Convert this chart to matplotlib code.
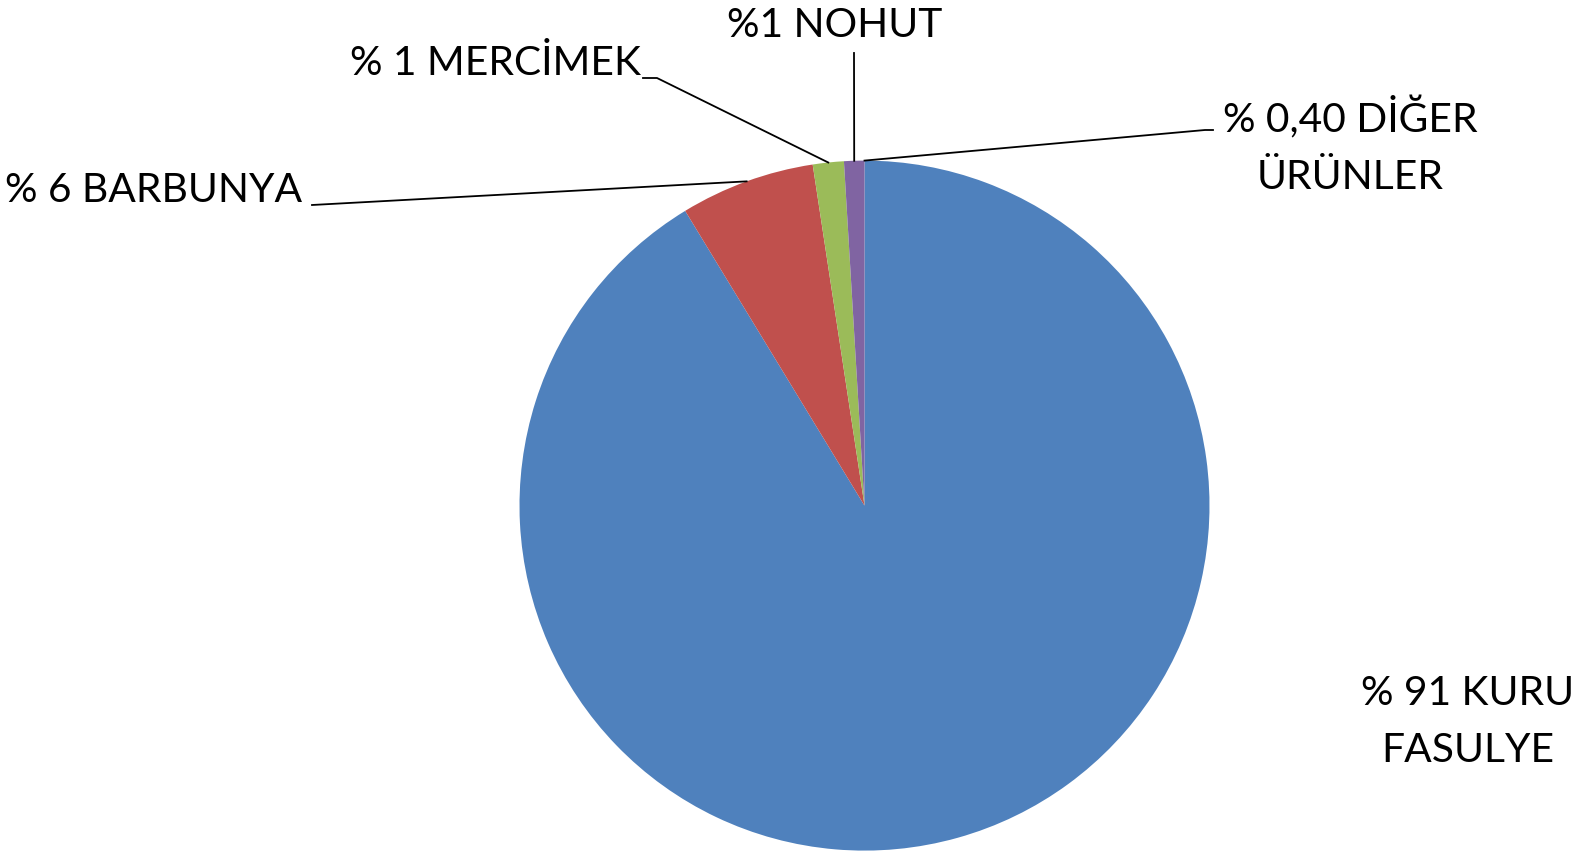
import numpy as np
import matplotlib
matplotlib.use("Agg")
from matplotlib import pyplot as plt

# slice shares (clockwise from 12 o'clock)
categories = ['KURU FASULYE', 'BARBUNYA', 'MERCİMEK', 'NOHUT', 'DİĞER ÜRÜNLER']
shares = [91.3, 6.3, 1.45, 0.95, 0.0]
labels = ['% 91 KURU\nFASULYE', '% 6 BARBUNYA', '% 1 MERCİMEK', '%1 NOHUT', '% 0,40 DİĞER\nÜRÜNLER']
colors = ['#4F81BD', '#C0504D', '#9BBB59', '#8064A2', '#4BACC6']

W, H = 1589, 855
fig = plt.figure(figsize=(W / 100, H / 100), dpi=100)
ax = fig.add_axes([0, 0, 1, 1])
ax.set_aspect('equal')

cx, cy, r = 864.5, H - 505.6, 345
wedges, _ = ax.pie(shares, colors=colors, startangle=90, counterclock=False,
                   center=(cx, cy), radius=r, frame=True,
                   wedgeprops=dict(linewidth=0))
ax.set_xlim(0, W)
ax.set_ylim(0, H)
ax.axis('off')

font = dict(family='Lato', fontsize=29.3, color='black')

# label text position, alignment, and leader line points (image coords, y down)
label_pos = [(1468, 722, 'center'), (302, 190, 'right'), (641, 63, 'right'),
             (835, 25, 'center'), (1350, 146, 'center')]
leader_start = [None, [(312, 205)], [(643, 78), (657, 78)], [(854, 53)], [(1213, 130), (1205, 130)]]

for w, lab, (tx, ty, ha), pts in zip(wedges, labels, label_pos, leader_start):
    ax.text(tx, H - ty, lab, ha=ha, va='center', linespacing=1.66, **font)
    if pts is None:
        continue
    mid = np.deg2rad((w.theta1 + w.theta2) / 2)
    ex, ey = cx + r * np.cos(mid), cy + r * np.sin(mid)
    xs = [p[0] for p in pts] + [ex]
    ys = [H - p[1] for p in pts] + [ey]
    ax.plot(xs, ys, color='black', lw=1.3)

fig.savefig('out.png', dpi=100)
